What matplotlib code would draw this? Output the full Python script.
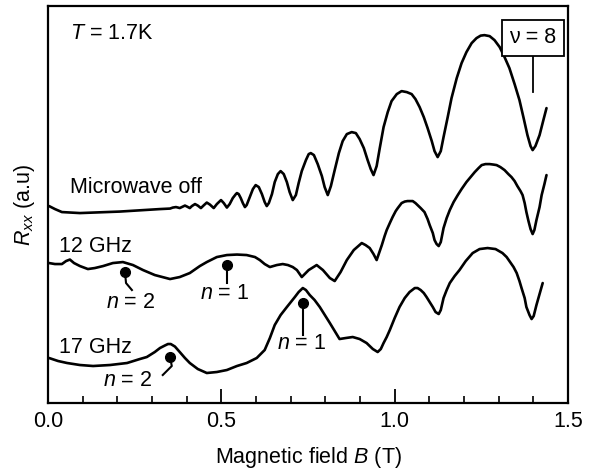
import matplotlib
matplotlib.use("Agg")
import matplotlib.pyplot as plt

plt.rcParams['font.family'] = ['Liberation Sans', 'DejaVu Sans']
plt.rcParams['mathtext.fontset'] = 'custom'
plt.rcParams['mathtext.rm'] = 'Liberation Sans'
plt.rcParams['mathtext.it'] = 'Liberation Sans:italic'

# ---- data (B in tesla, Rxx in arbitrary units) ----
b_off = [0.003,0.020,0.040,0.092,0.207,0.323,
         0.352,0.360,0.369,0.375,0.380,0.386,0.395,0.401,0.409,0.415,0.424,0.432,0.441,0.450,0.458,0.467,0.478,0.487,0.499,0.507,
         0.516,0.524,0.533,0.542,0.545,0.550,0.556,0.562,0.568,0.573,0.582,0.591,0.599,0.608,0.617,0.625,0.631,0.637,0.646,0.654,
         0.663,0.671,0.680,0.689,0.697,0.706,0.715,0.723,0.732,0.744,0.752,0.758,0.767,0.778,0.790,0.798,0.807,0.816,0.827,0.839,
         0.850,0.862,0.876,0.888,0.899,0.911,0.922,0.931,0.939,0.948,0.957,0.968,0.980,0.991,1.006,1.020,1.035,1.049,1.060,1.072,
         1.084,1.095,1.107,1.115,1.124,1.133,1.141,1.153,1.164,1.179,1.193,1.207,1.222,1.236,1.248,1.259,1.274,1.288,1.303,1.317,
         1.331,1.346,1.360,1.372,1.383,1.392,1.398,1.406,1.418,1.429,1.438]
r_off = [1.97,1.94,1.91,1.90,1.915,1.94,
         1.945,1.955,1.96,1.955,1.95,1.96,1.975,1.965,1.95,1.97,1.99,1.975,1.95,1.98,2.005,1.985,1.95,1.99,2.03,2.00,
         1.955,1.99,2.05,2.09,2.10,2.09,2.05,2.00,1.96,1.98,2.06,2.14,2.18,2.16,2.09,2.01,1.97,2.00,2.09,2.21,
         2.29,2.32,2.29,2.21,2.11,2.03,2.08,2.20,2.32,2.43,2.49,2.50,2.48,2.39,2.27,2.16,2.08,2.17,2.33,2.50,
         2.62,2.69,2.71,2.70,2.64,2.55,2.43,2.34,2.28,2.37,2.55,2.76,2.91,3.02,3.09,3.12,3.11,3.09,3.04,2.96,
         2.86,2.75,2.62,2.52,2.46,2.52,2.66,2.86,3.05,3.25,3.40,3.51,3.60,3.65,3.675,3.68,3.67,3.63,3.56,3.46,
         3.35,3.19,3.03,2.85,2.68,2.57,2.53,2.57,2.68,2.83,2.95]

b_12 = [0.003,0.020,0.040,0.052,0.063,0.075,0.092,0.115,0.135,0.159,0.187,0.216,0.245,0.274,0.308,0.352,
        0.380,0.409,0.438,0.458,0.487,0.516,0.545,0.573,0.597,0.611,0.625,0.640,0.660,0.677,0.692,0.706,
        0.718,0.732,0.752,0.775,0.793,0.813,0.827,0.844,0.862,0.882,0.905,0.916,0.928,
        0.939,0.948,0.954,0.963,0.971,0.977,0.986,0.994,1.003,1.009,1.020,1.029,1.037,1.052,1.060,
        1.066,1.075,1.086,1.095,1.101,1.110,1.115,1.121,1.127,1.133,1.141,1.150,1.159,1.170,1.182,
        1.193,1.207,1.219,1.231,1.242,1.251,1.262,1.274,1.285,1.294,1.305,1.317,1.328,1.337,1.346,
        1.354,1.363,1.369,1.375,1.380,1.386,1.392,1.398,1.403,1.409,1.418,1.424,1.432,1.438]
r_12 = [1.40,1.39,1.39,1.42,1.435,1.40,1.37,1.34,1.35,1.37,1.40,1.41,1.38,1.33,1.28,1.24,
        1.26,1.30,1.37,1.41,1.46,1.48,1.485,1.48,1.46,1.43,1.39,1.36,1.38,1.39,1.38,1.36,
        1.33,1.26,1.33,1.38,1.33,1.25,1.22,1.31,1.43,1.53,1.60,1.58,1.55,
        1.49,1.43,1.49,1.58,1.67,1.73,1.80,1.86,1.92,1.95,2.00,2.015,2.02,2.02,2.00,
        1.98,1.95,1.91,1.84,1.78,1.70,1.63,1.59,1.57,1.61,1.75,1.85,1.93,2.01,2.08,
        2.14,2.21,2.26,2.31,2.35,2.38,2.39,2.39,2.385,2.38,2.36,2.33,2.29,2.26,2.22,
        2.17,2.12,2.08,2.00,1.91,1.82,1.74,1.69,1.73,1.83,1.96,2.08,2.19,2.28]

b_17 = [0.003,0.029,0.055,0.092,0.130,0.179,0.228,0.265,0.285,0.308,
        0.323,0.337,0.346,0.354,0.366,0.380,0.395,0.409,0.432,0.458,
        0.487,0.516,0.545,0.573,0.602,0.625,0.640,0.654,0.671,0.689,
        0.712,0.723,0.735,0.744,0.755,0.769,0.784,0.813,0.827,0.841,
        0.859,0.879,0.899,0.919,0.937,0.951,0.960,0.968,0.977,0.986,
        1.000,1.014,1.029,1.043,1.058,1.066,1.075,1.084,1.092,1.101,
        1.110,1.118,1.127,1.133,1.141,1.150,1.159,1.173,1.187,1.205,
        1.225,1.245,1.268,1.291,1.311,1.323,1.331,1.343,1.352,1.360,
        1.366,1.375,1.380,1.389,1.395,1.401,1.409,1.418,1.427]
r_17 = [0.45,0.42,0.40,0.38,0.37,0.38,0.40,0.44,0.46,0.51,
        0.55,0.575,0.59,0.59,0.565,0.51,0.45,0.40,0.34,0.30,
        0.31,0.33,0.37,0.40,0.45,0.53,0.65,0.78,0.88,0.96,
        1.06,1.11,1.15,1.13,1.08,1.03,0.96,0.80,0.72,0.64,
        0.65,0.66,0.64,0.60,0.54,0.51,0.54,0.60,0.66,0.73,
        0.85,0.96,1.05,1.11,1.15,1.15,1.13,1.10,1.06,1.01,
        0.96,0.91,0.89,0.93,1.05,1.13,1.20,1.27,1.33,1.42,
        1.50,1.54,1.55,1.54,1.50,1.46,1.42,1.36,1.30,1.22,
        1.15,1.05,0.96,0.88,0.84,0.87,0.98,1.09,1.20]

x_ticks = [0.0, 0.5, 1.0, 1.5]
x_tick_labels = ["0.0", "0.5", "1.0", "1.5"]
x_minor = [0.1, 0.2, 0.3, 0.4, 0.6, 0.7, 0.8, 0.9, 1.1, 1.2, 1.3, 1.4]

FS = 15.5

fig = plt.figure(figsize=(5.90, 4.73), dpi=100)
ax = fig.add_axes([0.0814, 0.148, 0.8813, 0.839])

for b, r in [(b_off, r_off), (b_12, r_12), (b_17, r_17)]:
    ax.plot(b, r, color='black', lw=1.9, solid_joinstyle='round', solid_capstyle='round')

ax.set_xlim(0, 1.5)
ax.set_ylim(0, 3.97)
ax.set_xticks(x_ticks)
ax.set_xticklabels(x_tick_labels)
ax.set_xticks(x_minor, minor=True)
ax.set_yticks([])
ax.tick_params(axis='x', which='major', direction='in', length=10, width=1.3, labelsize=FS, pad=6)
ax.tick_params(axis='x', which='minor', direction='in', length=5, width=1.2)
for s in ax.spines.values():
    s.set_linewidth(1.6)

ax.set_xlabel("Magnetic field $B$ (T)", fontsize=FS, labelpad=9)
ax.set_ylabel("$R_{xx}$ (a.u)", fontsize=FS, labelpad=8)

ax.text(0.063, 3.70, "$T$ = 1.7K", fontsize=FS, va='center', ha='left')
ax.text(0.063, 2.16, "Microwave off", fontsize=FS, va='center', ha='left')
ax.text(0.032, 1.57, "12 GHz", fontsize=FS, va='center', ha='left')
ax.text(0.032, 0.56, "17 GHz", fontsize=FS, va='center', ha='left')

ax.text(1.398, 3.655, "ν = 8", fontsize=FS, va='center', ha='center',
        bbox=dict(boxstyle='square,pad=0.35', fc='white', ec='black', lw=1.3))
ax.plot([1.398, 1.398], [3.49, 3.11], color='black', lw=1.3)

# n markers: dot + stick
ax.plot([0.222, 0.225, 0.242], [1.31, 1.20, 1.13], color='black', lw=1.5)
ax.plot([0.222], [1.31], 'o', color='black', ms=7)
ax.text(0.239, 1.01, "$n$ = 2", fontsize=FS, ha='center', va='center')

ax.plot([0.516, 0.516], [1.38, 1.20], color='black', lw=1.5)
ax.plot([0.516], [1.38], 'o', color='black', ms=7)
ax.text(0.510, 1.10, "$n$ = 1", fontsize=FS, ha='center', va='center')

ax.plot([0.352, 0.357, 0.331], [0.46, 0.37, 0.28], color='black', lw=1.5)
ax.plot([0.352], [0.46], 'o', color='black', ms=7)
ax.text(0.231, 0.23, "$n$ = 2", fontsize=FS, ha='center', va='center')

ax.plot([0.735, 0.735], [1.00, 0.68], color='black', lw=1.5)
ax.plot([0.735], [1.00], 'o', color='black', ms=7)
ax.text(0.732, 0.60, "$n$ = 1", fontsize=FS, ha='center', va='center')

fig.savefig("out.png", dpi=100)
